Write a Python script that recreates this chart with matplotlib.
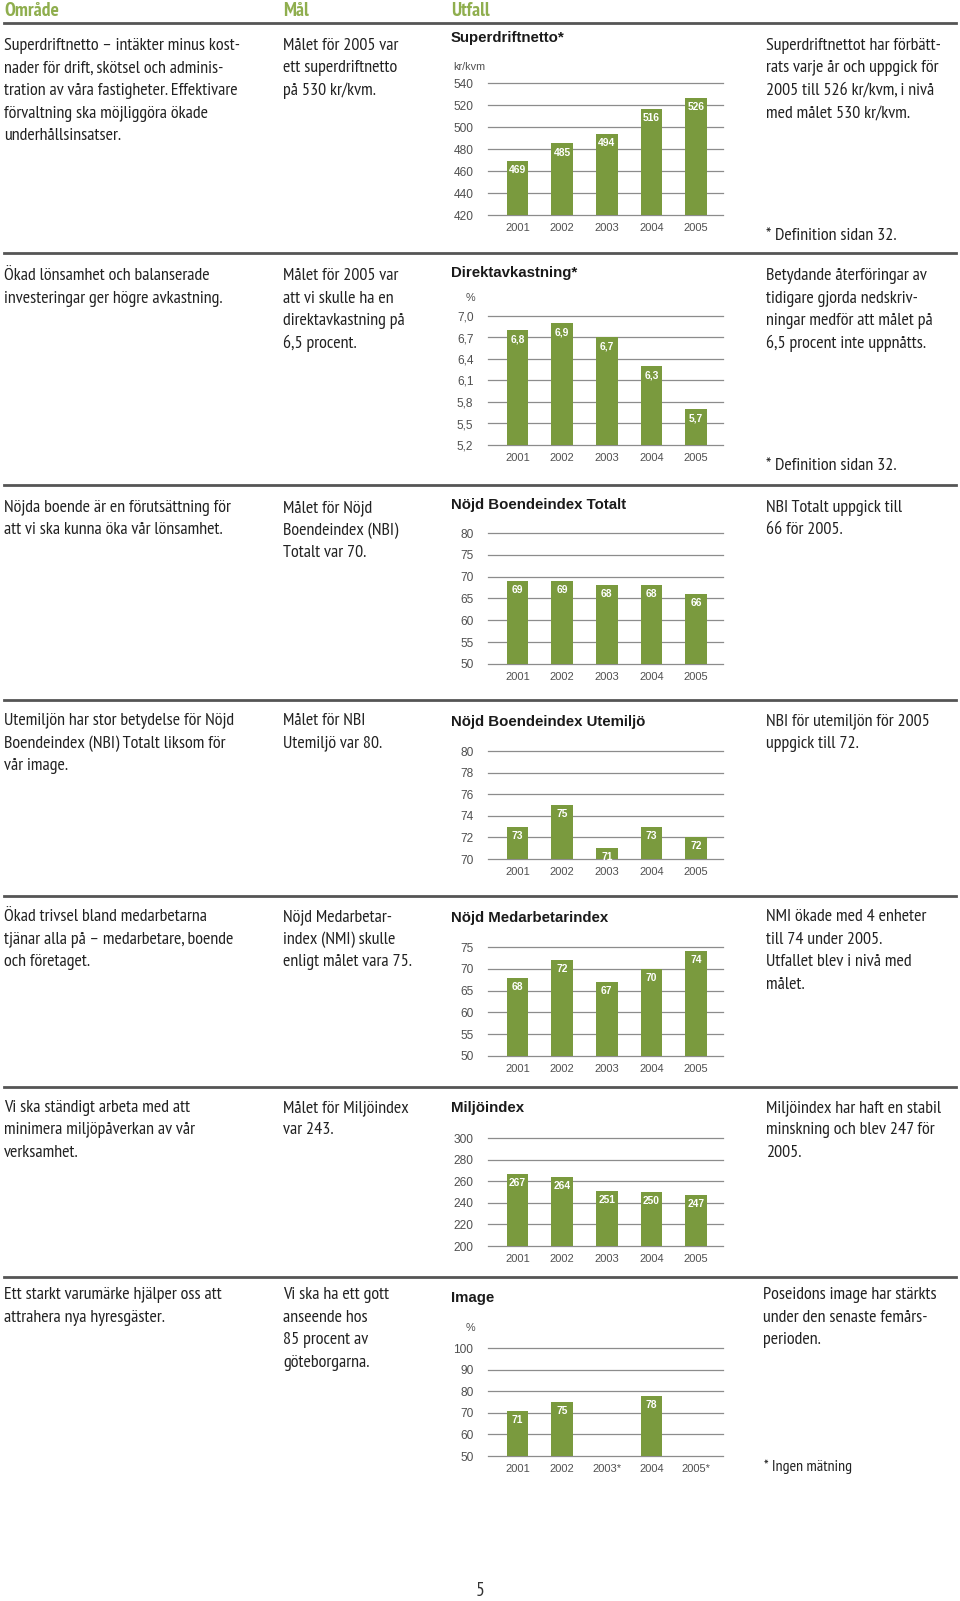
import numpy as np
import matplotlib
matplotlib.use('Agg')
import matplotlib.pyplot as plt
from matplotlib import font_manager as fm

# ---------------- data ----------------
years = ['2001', '2002', '2003', '2004', '2005']
image_years = ['2001', '2002', '2003*', '2004', '2005*']

superdriftnetto = [469, 485, 494, 516, 526]
superdriftnetto_ticks = [420, 440, 460, 480, 500, 520, 540]

direktavkastning = [6.8, 6.9, 6.7, 6.3, 5.7]
direktavkastning_ticks = [5.2, 5.5, 5.8, 6.1, 6.4, 6.7, 7.0]

nbi_totalt = [69, 69, 68, 68, 66]
nbi_totalt_ticks = [50, 55, 60, 65, 70, 75, 80]

nbi_utemiljo = [73, 75, 71, 73, 72]
nbi_utemiljo_ticks = [70, 72, 74, 76, 78, 80]

nmi = [68, 72, 67, 70, 74]
nmi_ticks = [50, 55, 60, 65, 70, 75]

miljoindex = [267, 264, 251, 250, 247]
miljoindex_ticks = [200, 220, 240, 260, 280, 300]

image_values = [71, 75, np.nan, 78, np.nan]
image_ticks = [50, 60, 70, 80, 90, 100]

headers = ['Område', 'Mål', 'Utfall']

col1_texts = [
    "Superdriftnetto – intäkter minus kost-\nnader för drift, skötsel och adminis-\ntration av våra fastigheter. Effektivare\nförvaltning ska möjliggöra ökade\nunderhållsinsatser.",
    "Ökad lönsamhet och balanserade\ninvesteringar ger högre avkastning.",
    "Nöjda boende är en förutsättning för\natt vi ska kunna öka vår lönsamhet.",
    "Utemiljön har stor betydelse för Nöjd\nBoendeindex (NBI) Totalt liksom för\nvår image.",
    "Ökad trivsel bland medarbetarna\ntjänar alla på – medarbetare, boende\noch företaget.",
    "Vi ska ständigt arbeta med att\nminimera miljöpåverkan av vår\nverksamhet.",
    "Ett starkt varumärke hjälper oss att\nattrahera nya hyresgäster.",
]
col2_texts = [
    "Målet för 2005 var\nett superdriftnetto\npå 530 kr/kvm.",
    "Målet för 2005 var\natt vi skulle ha en\ndirektavkastning på\n6,5 procent.",
    "Målet för Nöjd\nBoendeindex (NBI)\nTotalt var 70.",
    "Målet för NBI\nUtemiljö var 80.",
    "Nöjd Medarbetar-\nindex (NMI) skulle\nenligt målet vara 75.",
    "Målet för Miljöindex\nvar 243.",
    "Vi ska ha ett gott\nanseende hos\n85 procent av\ngöteborgarna.",
]
col4_texts = [
    "Superdriftnettot har förbätt-\nrats varje år och uppgick för\n2005 till 526 kr/kvm, i nivå\nmed målet 530 kr/kvm.",
    "Betydande återföringar av\ntidigare gjorda nedskriv-\nningar medför att målet på\n6,5 procent inte uppnåtts.",
    "NBI Totalt uppgick till\n66 för 2005.",
    "NBI för utemiljön för 2005\nuppgick till 72.",
    "NMI ökade med 4 enheter\ntill 74 under 2005.\nUtfallet blev i nivå med\nmålet.",
    "Miljöindex har haft en stabil\nminskning och blev 247 för\n2005.",
    "Poseidons image har stärkts\nunder den senaste femårs-\nperioden.",
]
chart_titles = ['Superdriftnetto*', 'Direktavkastning*', 'Nöjd Boendeindex Totalt',
                'Nöjd Boendeindex Utemiljö', 'Nöjd Medarbetarindex', 'Miljöindex', 'Image']
chart_units = ['kr/kvm', '%', '', '', '', '', '%']

# ---------------- fonts ----------------
entries = fm.fontManager.ttflist


def has_family(name, bold=False):
    for f in entries:
        if f.name == name and f.style == 'normal':
            w = f.weight if isinstance(f.weight, int) else 400
            if (bold and w >= 600) or (not bold and 350 <= w <= 450):
                return True
    return False


narrow_cands = ['PT Sans Narrow', 'Fira Sans Condensed', 'Roboto Condensed',
                'Asap Condensed', 'Encode Sans Condensed', 'Barlow Semi Condensed',
                'Liberation Sans Narrow']
NARROW_NAME = 'DejaVu Sans'
for c in narrow_cands:
    if has_family(c) and has_family(c, bold=True):
        NARROW_NAME = c
        break
NARROW = [NARROW_NAME, 'DejaVu Sans']
SANS = ['Liberation Sans', 'DejaVu Sans']

# ---------------- layout / style ----------------
W, H = 960, 1601
GREEN = '#7a9a3e'
HEAD_GREEN = '#8fae4e'
GRID = '#8c8c8c'
TICK = '#505050'

fig = plt.figure(figsize=(W / 100, H / 100), dpi=100)
fig.patch.set_facecolor('white')
renderer = fig.canvas.get_renderer()


def fit_size(text, family, target_px, weight='normal', base=10.0, lo=6, hi=13):
    t = fig.text(0, 0, text, family=family, fontsize=base, fontweight=weight)
    w = t.get_window_extent(renderer).width
    t.remove()
    return float(min(hi, max(lo, base * target_px / w)))


BODY = fit_size("Superdriftnetto – intäkter minus kost-", NARROW, 243)
HEAD = fit_size("Område", NARROW, 61, weight='bold', hi=14)
NOTE = fit_size("* Ingen mätning", NARROW, 88)
TITLE = fit_size("Nöjd Boendeindex Utemiljö", SANS, 195, weight='bold', hi=12)


def fx(x):
    return x / W


def fy(y):
    return 1 - y / H


def hline(y):
    fig.add_artist(plt.Line2D([fx(4), fx(956)], [fy(y), fy(y)], color='#555555', lw=2.0))


def block(x, y0, text, size=None, step=22.5, color='#222222', **kw):
    size = BODY if size is None else size
    for i, line in enumerate(text.split('\n')):
        fig.text(fx(x), fy(y0 + i * step), line, family=NARROW, fontsize=size,
                 color=color, ha='left', va='center', **kw)


# header
for hx, h in zip([4, 283, 451], headers):
    fig.text(fx(hx), fy(11), h, family=NARROW, fontsize=HEAD, fontweight='bold',
             color=HEAD_GREEN, ha='left', va='center')
hline(23)
for y in [253, 485, 700, 896, 1087, 1277]:
    hline(y)

row_y = [46, 276, 508, 721, 917, 1108, 1295]
for i in range(7):
    block(4, row_y[i], col1_texts[i])
    block(283, row_y[i], col2_texts[i])
    block(766 if i < 6 else 763, row_y[i], col4_texts[i])

block(766, 236, "* Definition sidan 32.")
block(766, 466, "* Definition sidan 32.")
block(764, 1467, "* Ingen mätning", size=NOTE)

fig.text(fx(480), fy(1591), '5', family=NARROW, fontsize=BODY + 1, color='#333333',
         ha='center', va='center')

# charts
chart_data = [superdriftnetto, direktavkastning, nbi_totalt, nbi_utemiljo,
              nmi, miljoindex, image_values]
chart_ticks = [superdriftnetto_ticks, direktavkastning_ticks, nbi_totalt_ticks,
               nbi_utemiljo_ticks, nmi_ticks, miljoindex_ticks, image_ticks]
chart_xlabels = [years] * 6 + [image_years]
decimal = [False, True, False, False, False, False, False]
chart_top = [83, 316, 533, 751, 947, 1138, 1348]
chart_bot = [215, 445, 664, 859, 1056, 1246, 1456]
title_y = [38, 273, 505, 722, 918, 1108, 1298]
unit_y = [67, 298, 0, 0, 0, 0, 1328]

for k in range(7):
    x0, x1 = 488, 723
    y0, y1 = chart_top[k], chart_bot[k]
    ax = fig.add_axes([fx(x0), fy(y1), (x1 - x0) / W, (y1 - y0) / H])
    vals = chart_data[k]
    ticks = chart_ticks[k]
    xs = np.arange(len(vals))
    ax.bar(xs, vals, width=0.49, color=GREEN, zorder=2)
    ax.set_ylim(ticks[0], ticks[-1])
    ax.set_xlim(-0.66, 4.6)
    ax.set_yticks(ticks)
    if decimal[k]:
        ax.set_yticklabels([f'{t:.1f}'.replace('.', ',') for t in ticks])
    else:
        ax.set_yticklabels([str(t) for t in ticks])
    ax.set_xticks(xs)
    ax.set_xticklabels(chart_xlabels[k])
    for t in ticks:
        ax.axhline(t, color=GRID, lw=0.9, zorder=1, clip_on=False)
    for s in ax.spines.values():
        s.set_visible(False)
    ax.tick_params(axis='y', length=0, pad=10.5, labelsize=8.6, labelcolor=TICK)
    ax.tick_params(axis='x', length=0, pad=6, labelsize=8, labelcolor=TICK)
    for lab in ax.get_xticklabels() + ax.get_yticklabels():
        lab.set_family(SANS)
    ax.patch.set_alpha(0)
    for i, v in enumerate(vals):
        if np.isnan(v):
            continue
        s = f'{v:.1f}'.replace('.', ',') if decimal[k] else f'{int(v)}'
        ax.annotate(s, (i, v), xytext=(0, -6.5), textcoords='offset points',
                    ha='center', va='center', color='white', fontweight='bold',
                    fontsize=7.4, family=SANS, zorder=4)
    fig.text(fx(451), fy(title_y[k]), chart_titles[k], family=SANS, fontsize=TITLE,
             fontweight='bold', color='#1a1a1a', ha='left', va='center')
    if chart_units[k]:
        ux = 453 if chart_units[k] != '%' else 466
        fig.text(fx(ux), fy(unit_y[k]), chart_units[k], family=SANS, fontsize=7.8,
                 color=TICK, ha='left', va='center')

fig.savefig('out.png', dpi=100, facecolor='white')
